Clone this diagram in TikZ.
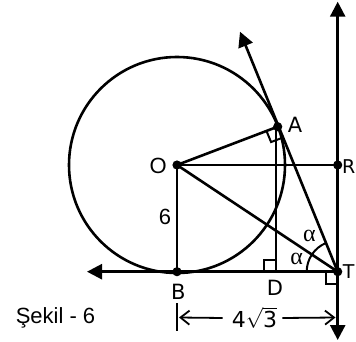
\documentclass[tikz,border=0pt]{standalone}
\usepackage{fontspec}
\setmainfont{Liberation Sans}
\newfontfamily\djv{DejaVu Sans}
\newfontfamily\lser{Liberation Serif}
\usetikzlibrary{arrows.meta,calc}
\begin{document}
\begin{tikzpicture}[x=1pt,y=1pt,
  geo/.style={line width=2.6pt},
  rmark/.style={line width=2pt},
  bigtip/.style={-{Triangle[length=15pt,width=15pt]}},
  dimarrow/.style={line width=1.8pt,-{Straight Barb[length=9pt,width=14pt]}},
  lblD/.style={font=\djv\fontsize{21}{21}\selectfont, inner sep=0pt},
  lblE/.style={font=\djv\fontsize{19}{19}\selectfont, inner sep=0pt},
  lblL/.style={font=\fontsize{22}{22}\selectfont, inner sep=0pt},
  lblG/.style={font=\lser\fontsize{24}{24}\selectfont, inner sep=0pt}]
\useasboundingbox (0,0) rectangle (356,-342);
% points
\coordinate (O) at (177,-165);
\coordinate (B) at (177,-271.7);
\coordinate (D) at (276,-271.7);
\coordinate (T) at (337.7,-271.7);
\coordinate (R) at (337.7,-165);
\coordinate (A) at (277.7,-126.7);
\coordinate (tA) at (240,-31.7);
\coordinate (vtop) at (337.7,-1.7);
\coordinate (vbot) at (337.7,-340);
\coordinate (lft) at (87,-271.7);
% circle
\draw[geo] (O) circle (108);
% axes and tangents
\draw[geo,{Triangle[length=15pt,width=15pt]}-{Triangle[length=15pt,width=15pt]}] (vbot) -- (vtop);
\draw[geo,bigtip] (T) -- (lft);
\draw[geo,bigtip] (T) -- (tA);
% segments
\draw[geo] (O) -- (A);
\draw[geo] (O) -- (R);
\draw[geo] (O) -- (T);
\draw[geo] (O) -- (B);
\draw[geo] (D) -- (D |- A);
% right angle marks
\coordinate (a1) at ($(A)!12pt!(O)$);
\coordinate (a2) at ($(A)!12pt!(T)$);
\draw[rmark] (a1) -- ($(a1)+(a2)-(A)$) -- (a2);
\draw[rmark] ($(D)+(-12,0)$) -- ($(D)+(-12,12)$) -- ($(D)+(0,12)$);
\draw[rmark] ($(T)+(-12,0)$) -- ($(T)+(-12,-12)$) -- ($(T)+(0,-12)$);
% angle arc
\draw[rmark] ($(T)+(-31,0)$) arc[start angle=180, end angle=112.7, radius=31pt];
% dots
\foreach \p in {O,B,T,R,A} \fill (\p) circle (4.6);
% labels
\node[lblL] (lO) at (158.3,-165.7) {O};
\node[lblD] (lA) at (295,-125) {A};
\node[lblE] (lR) at (348.6,-166.5) {R};
\node[lblE] (lT) at (348.6,-271.7) {T};
\node[lblD] (lB) at (178.3,-292) {B};
\node[lblD] (lD) at (275,-288) {D};
\node[lblL] (l6) at (165,-217) {6};
\node[lblG] (al1) at (309.3,-236) {α};
\node[lblG] (al2) at (296.7,-259.3) {α};
\node[anchor=base,inner sep=0pt,font=\fontsize{22}{22}\selectfont] (sek) at (55.5,-323.5) {Şekil - 6};
% dimension
\coordinate (tk1) at (177,-303);
\coordinate (tk2) at (177,-331);
\draw[line width=1.8pt] (tk1) -- (tk2);
\node[inner sep=0pt,font=\djv\fontsize{22}{22}\selectfont] (dim) at (254.5,-318) {4$\sqrt{\hbox{3}}$};
\coordinate (dl) at (179,-317.5);
\coordinate (dr) at (335.5,-317.5);
\draw[dimarrow] (dim.west) ++(-9,0) coordinate (dlw) -- (dl);
\draw[dimarrow] (dim.east) ++(5,0) coordinate (drw) -- (dr);
\end{tikzpicture}
\end{document}
